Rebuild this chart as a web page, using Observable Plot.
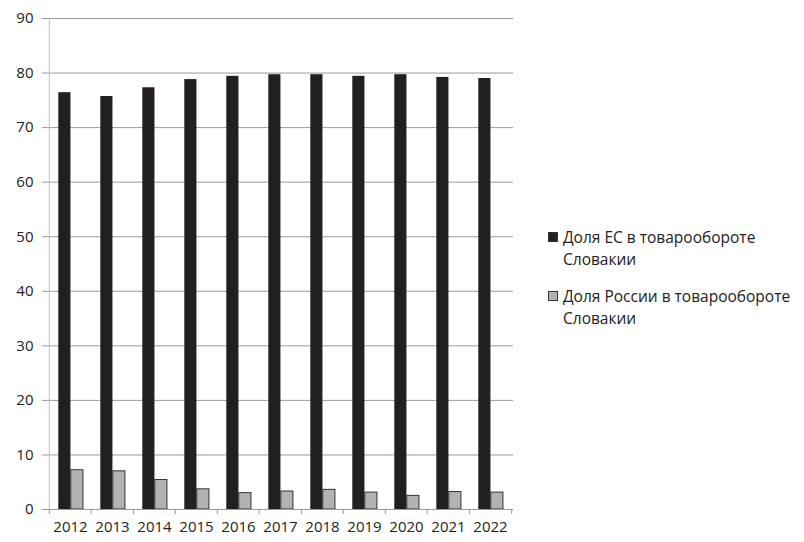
<!DOCTYPE html>
<html><head><meta charset="utf-8">
<script src="https://cdn.jsdelivr.net/npm/d3@7"></script>
<script src="https://cdn.jsdelivr.net/npm/@observablehq/plot@0.6"></script>
<style>
body{margin:0;background:#fff;}
#wrap{position:relative;width:804px;height:542px;font-family:"Open Sans",sans-serif;background:#fff;}
#chart{position:absolute;left:0;top:0;}
#legend{position:absolute;left:548px;top:226px;font-size:15.5px;color:#222;line-height:22px;}
.item{position:relative;padding-left:15px;margin-bottom:15px;}
.sw{position:absolute;left:0;top:6px;width:10px;height:10px;box-sizing:border-box;}
</style></head><body>
<div id="wrap"><div id="chart"></div><div id="legend"></div></div>
<script>
const years = ["2012","2013","2014","2015","2016","2017","2018","2019","2020","2021","2022"];
const euShare = [76.4, 75.7, 77.3, 78.8, 79.4, 79.7, 79.7, 79.4, 79.7, 79.2, 79.0];
const ruShare = [7.2, 7.0, 5.4, 3.7, 3.0, 3.3, 3.6, 3.1, 2.5, 3.2, 3.1];
const seriesNames = ["Доля ЕС в товарообороте Словакии", "Доля России в товарообороте Словакии"];
const seriesColors = ["#231f20", "#b3b3b3"];
const yTicks = [0, 10, 20, 30, 40, 50, 60, 70, 80, 90];

const data = years.map((y, i) => ({year: y, eu: euShare[i], ru: ruShare[i]}));

const W = 530, H = 542, mL = 47, mR = 17, mT = 18, mB = 33;
const step = (W - mL - mR) / years.length;
const barW = 12.5;
const off = 9.3;

const chart = Plot.plot({
  width: W, height: H,
  marginLeft: mL, marginRight: mR, marginTop: mT, marginBottom: mB,
  style: {fontFamily: '"Open Sans", sans-serif', fontSize: "15px", color: "#222", background: "#fff"},
  x: {domain: years, padding: 0, axis: null},
  y: {domain: [0, 90], axis: null},
  marks: [
    Plot.gridY(yTicks, {stroke: "#9a9a9a", strokeOpacity: 1, strokeWidth: 1}),
    Plot.axisY(yTicks, {tickSize: 5, tickPadding: 9, stroke: "#9a9a9a", label: null, fill: "#222", fontSize: 15}),
    Plot.ruleX([years[0]], {x: d => d, dx: -step / 2, y1: 0, y2: 90, stroke: "#bdbdbd"}),
    Plot.barY(data, {x: "year", y: "eu", fill: seriesColors[0], insetLeft: off, insetRight: step - off - barW}),
    Plot.barY(data, {x: "year", y: "ru", fill: seriesColors[1], stroke: "#333", strokeWidth: 1, insetLeft: off + barW, insetRight: step - off - 2 * barW}),
    Plot.ruleY([0], {stroke: "#9a9a9a"}),
    Plot.axisX(years, {tickSize: 5, dx: -step / 2, tickFormat: () => "", stroke: "#9a9a9a", label: null}),
    Plot.axisX([years[years.length - 1]], {tickSize: 5, dx: step / 2, tickFormat: () => "", stroke: "#9a9a9a", label: null}),
    Plot.axisX(years, {tickSize: 0, tickPadding: 12, label: null, fill: "#222", fontSize: 15})
  ]
});
document.getElementById("chart").appendChild(chart);

const legend = document.getElementById("legend");
seriesNames.forEach((name, i) => {
  const item = document.createElement("div");
  item.className = "item";
  const sw = document.createElement("span");
  sw.className = "sw";
  sw.style.background = seriesColors[i];
  sw.style.border = "1px solid #333";
  item.appendChild(sw);
  const words = name.split(" ");
  const txt = document.createElement("div");
  txt.innerHTML = words.slice(0, -1).join(" ") + "<br>" + words[words.length - 1];
  item.appendChild(txt);
  legend.appendChild(item);
});
</script>
</body></html>
